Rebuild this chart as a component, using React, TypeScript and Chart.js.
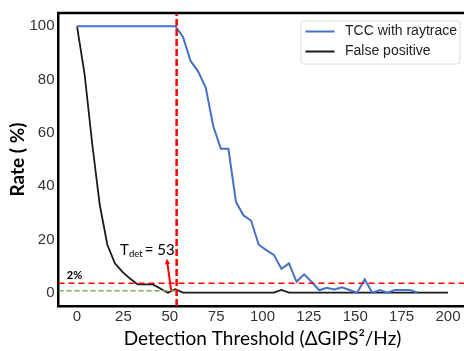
import { useEffect, useRef } from "react";
import { Chart, registerables } from "chart.js";

Chart.register(...registerables);

// ---- data ----
const thresholds = [
  0, 4.08, 8.16, 12.24, 16.33, 20.41, 24.49, 28.57, 32.65, 36.73, 40.82, 44.9, 48.98, 53.06,
  57.14, 61.22, 65.31, 69.39, 73.47, 77.55, 81.63, 85.71, 89.8, 93.88, 97.96, 102.04, 106.12,
  110.2, 114.29, 118.37, 122.45, 126.53, 130.61, 134.69, 138.78, 142.86, 146.94, 151.02, 155.1,
  159.18, 163.27, 167.35, 171.43, 175.51, 179.59, 183.67, 187.76, 191.84, 195.92, 200,
];
const tccRate = [
  100, 100, 100, 100, 100, 100, 100, 100, 100, 100, 100, 100, 100, 100,
  96, 87, 83, 77, 62.5, 54, 54, 34, 29, 27, 18, 16, 14.2, 9, 11, 4.1, 6.9, 4, 0.9, 1.8,
  1.2, 2, 1, 0, 5, 0, 1, 0, 1, 1, 1, 0,
];
const falsePositive = [
  100, 82, 56, 33, 18, 11, 7.8, 5.3, 3.1, 3.1, 3.1, 1.6, 0, 1.3, 0, 0, 0, 0, 0, 0, 0, 0, 0, 0,
  0, 0, 0, 1, 0, 0, 0, 0, 0, 0, 0, 0, 0, 0, 0, 0, 0, 0, 0, 0, 0, 0, 0, 0, 0, 0,
];
const seriesLabels = ["TCC with raytrace", "False positive"];
const xTicks = [0, 25, 50, 75, 100, 125, 150, 175, 200];
const yTicks = [0, 20, 40, 60, 80, 100];
const tDet = 53;
const tDetLineX = 53.7;
const limitLevel = 3.5; // "2%" line
const baseLevel = 0.7;
const limitLabel = "2%";
const arrowFrom = { x: 50.7, y: 1 };
const arrowTo = { x: 48.4, y: 12.7 };
const tDetTextAt = { x: 23.2, y: 14.3 };
const limitTextAt = { x: -5.5, y: 5.1 };

const X_MIN = -10, X_MAX = 210, Y_MIN = -5, Y_MAX = 105;

const overlay = {
  id: "overlay",
  afterDatasetsDraw(chart: any) {
    const { ctx, chartArea, scales } = chart;
    const xs = scales.x, ys = scales.y;
    const px = (v: number) => xs.getPixelForValue(v);
    const py = (v: number) => ys.getPixelForValue(v);
    ctx.save();
    // top spine
    ctx.strokeStyle = "#000";
    ctx.lineWidth = 2.5;
    ctx.beginPath();
    ctx.moveTo(chartArea.left - 1.25, chartArea.top);
    ctx.lineTo(chart.width, chartArea.top);
    ctx.stroke();

    // arrow
    const x1 = px(arrowFrom.x), y1 = py(arrowFrom.y);
    const x2 = px(arrowTo.x), y2 = py(arrowTo.y);
    const ang = Math.atan2(y2 - y1, x2 - x1);
    const head = 6;
    ctx.strokeStyle = "#ff0000";
    ctx.fillStyle = "#ff0000";
    ctx.lineWidth = 2;
    ctx.beginPath();
    ctx.moveTo(x1, y1);
    ctx.lineTo(x2 - Math.cos(ang) * head * 0.8, y2 - Math.sin(ang) * head * 0.8);
    ctx.stroke();
    ctx.beginPath();
    ctx.moveTo(x2, y2);
    ctx.lineTo(x2 - head * Math.cos(ang - 0.45), y2 - head * Math.sin(ang - 0.45));
    ctx.lineTo(x2 - head * Math.cos(ang + 0.45), y2 - head * Math.sin(ang + 0.45));
    ctx.closePath();
    ctx.fill();

    // T_det text
    ctx.fillStyle = "#000";
    ctx.textBaseline = "alphabetic";
    ctx.textAlign = "left";
    let tx = px(tDetTextAt.x);
    const ty = py(tDetTextAt.y);
    ctx.font = "15px Lato";
    ctx.fillText("T", tx, ty);
    tx += ctx.measureText("T").width;
    ctx.font = "9.5px Lato";
    ctx.fillText("det", tx, ty + 2.5);
    tx += ctx.measureText("det").width + 2;
    ctx.font = "15px Lato";
    ctx.fillText("= " + tDet, tx, ty);

    // 2% label
    ctx.font = "bold 11px Lato";
    ctx.fillText(limitLabel, px(limitTextAt.x), py(limitTextAt.y));

    // legend
    const bw = 159, bh = 43;
    const bx = chartArea.right - 7 - bw;
    const by = chartArea.top + 7.5;
    ctx.beginPath();
    ctx.roundRect(bx + 0.5, by + 0.5, bw, bh, 3);
    ctx.fillStyle = "rgba(255,255,255,0.85)";
    ctx.fill();
    ctx.strokeStyle = "#dcdcdc";
    ctx.lineWidth = 1;
    ctx.stroke();
    const ds = chart.data.datasets;
    ctx.font = "14px 'Liberation Sans', Arial";
    ctx.textBaseline = "middle";
    for (let i = 0; i < 2; i++) {
      const ly = by + 11 + i * 20;
      ctx.strokeStyle = ds[i].borderColor;
      ctx.lineWidth = 2;
      ctx.beginPath();
      ctx.moveTo(bx + 5, ly);
      ctx.lineTo(bx + 34, ly);
      ctx.stroke();
      ctx.fillStyle = "#222";
      ctx.fillText(ds[i].label, bx + 44.5, ly);
    }
    ctx.restore();
  },
};

export default function App() {
  const ref = useRef<HTMLCanvasElement>(null);
  useEffect(() => {
    if (!ref.current) return;
    const chart = new Chart(ref.current, {
      type: "line",
      data: {
        datasets: [
          {
            label: seriesLabels[0],
            data: tccRate.map((y, i) => ({ x: thresholds[i], y })),
            borderColor: "#4472C4",
            borderWidth: 2,
            pointRadius: 0,
            tension: 0,
            order: 3,
          },
          {
            label: seriesLabels[1],
            data: falsePositive.map((y, i) => ({ x: thresholds[i], y })),
            borderColor: "#1a1a1a",
            borderWidth: 1.8,
            pointRadius: 0,
            tension: 0,
            order: 3,
          },
          {
            label: "T_det",
            data: [{ x: tDetLineX, y: Y_MIN }, { x: tDetLineX, y: Y_MAX }],
            borderColor: "#ff0000",
            borderWidth: 2.5,
            borderDash: [7, 3],
            pointRadius: 0,
            order: 1,
          },
          {
            label: "limit",
            data: [{ x: X_MIN, y: limitLevel }, { x: X_MAX, y: limitLevel }],
            borderColor: "#ff0000",
            borderWidth: 1.5,
            borderDash: [6, 4],
            pointRadius: 0,
            order: 2,
          },
          {
            label: "base",
            data: [{ x: X_MIN, y: baseLevel }, { x: tDet, y: baseLevel }],
            borderColor: "#70AD47",
            borderWidth: 1.5,
            borderDash: [5, 3],
            pointRadius: 0,
            order: 2,
          },
        ],
      },
      options: {
        animation: false,
        responsive: false,
        events: [],
        layout: { padding: { left: 0, top: 8.5, right: 13.5, bottom: 0 } },
        plugins: { legend: { display: false }, tooltip: { enabled: false } },
        scales: {
          x: {
            type: "linear",
            min: X_MIN,
            max: X_MAX,
            afterBuildTicks: (s: any) => { s.ticks = xTicks.map((v) => ({ value: v })); },
            afterFit: (s: any) => { s.height = 45; },
            grid: { display: false, drawTicks: false },
            border: { display: true, color: "#000", width: 2.5 },
            ticks: {
              color: "#333",
              padding: 2,
              maxRotation: 0,
              autoSkip: false,
              font: { family: "'Liberation Sans', Arial", size: 15 },
            },
            title: {
              display: true,
              text: "Detection Threshold (ΔGIPS²/Hz)",
              color: "#000",
              font: { family: "Lato", size: 19 },
              padding: { top: 0, bottom: 1 },
            },
          },
          y: {
            type: "linear",
            min: Y_MIN,
            max: Y_MAX,
            afterBuildTicks: (s: any) => { s.ticks = yTicks.map((v) => ({ value: v })); },
            afterFit: (s: any) => { s.width = 58.5; },
            grid: { display: false, drawTicks: false },
            border: { display: true, color: "#000", width: 2.5 },
            ticks: {
              color: "#333",
              padding: 4,
              autoSkip: false,
              font: { family: "'Liberation Sans', Arial", size: 15 },
            },
            title: {
              display: true,
              text: "Rate ( %)",
              color: "#000",
              font: { family: "Lato", size: 19, weight: "bold" },
              padding: { top: 6, bottom: 0 },
            },
          },
        },
      },
      plugins: [overlay],
    });
    return () => chart.destroy();
  }, []);
  return (
    <div style={{ position: "fixed", left: 0, top: 0, width: 464, height: 351, overflow: "hidden", background: "#fff" }}>
      <canvas ref={ref} width={480} height={351} style={{ display: "block" }} />
    </div>
  );
}
